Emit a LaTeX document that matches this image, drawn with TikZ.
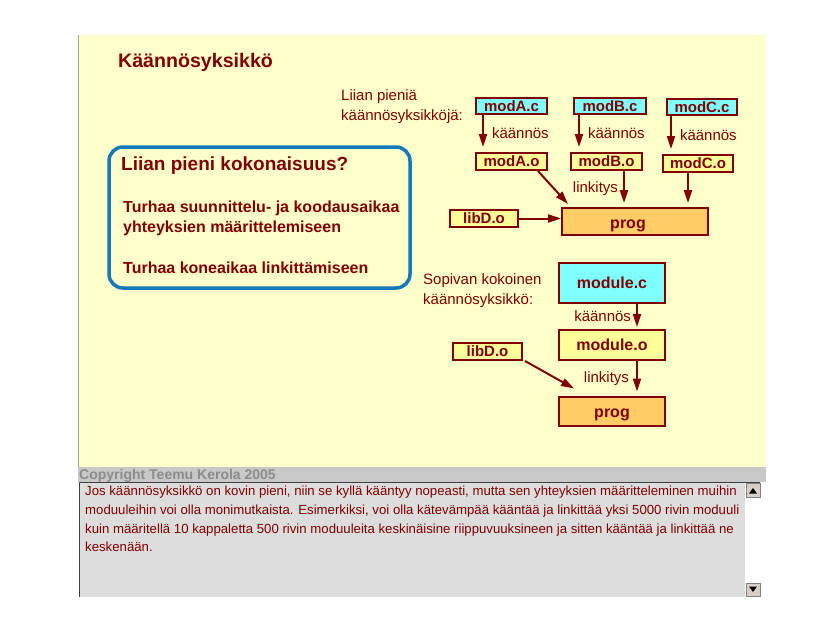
\documentclass[tikz,border=0pt]{standalone}
\usepackage{fontspec}
\setmainfont{Liberation Sans}
\usetikzlibrary{arrows.meta, positioning, calc}
\definecolor{slideyellow}{RGB}{255,255,204}
\definecolor{darkred}{RGB}{128,0,0}
\definecolor{srccyan}{RGB}{128,255,255}
\definecolor{objyellow}{RGB}{255,255,153}
\definecolor{progorange}{RGB}{255,204,102}
\definecolor{frameblue}{RGB}{20,120,185}
\definecolor{notegray}{RGB}{221,221,221}
\definecolor{stripgray}{RGB}{200,200,200}
\definecolor{btngray}{RGB}{212,208,200}

\tikzset{
    filebox/.style={draw=darkred, line width=2pt, inner sep=0pt, text=darkred,
                    font=\bfseries\fontsize{15}{18}\selectfont},
    srcbox/.style={filebox, fill=srccyan},
    objbox/.style={filebox, fill=objyellow},
    exebox/.style={filebox, fill=progorange, font=\bfseries\fontsize{16}{19}\selectfont,
                   text height=13pt, text depth=0pt},
    lbl/.style={inner sep=0pt, text=darkred, font=\fontsize{15}{18}\selectfont},
    txt/.style={anchor=west, inner sep=0pt, text=darkred},
    notetext/.style={anchor=base west, inner sep=0pt, text=darkred, font=\fontsize{13.2}{15}\selectfont},
    flow/.style={-{Triangle[length=13pt, width=8pt]}, draw=darkred, line width=2pt}
}

\begin{document}
\begin{tikzpicture}[x=1pt, y=-1pt]
    \useasboundingbox (0,0) rectangle (839,629);
    \fill[white] (0,0) rectangle (839,629);
    % slide
    \fill[slideyellow] (79,35) rectangle (766,467);
    \draw[black!35, line width=0.8pt] (78.5,35) -- (78.5,482);
    \node[txt, font=\bfseries\fontsize{19.6}{22}\selectfont] (title) at (118,62) {Käännösyksikkö};

    % too small units
    \node[txt, align=left, font=\fontsize{15}{20}\selectfont] (smallnote) at (341,107) {Liian pieniä\\käännösyksikköjä:};
    \node[srcbox, minimum width=71pt, minimum height=16pt] (modAc) at (511.5,106) {modA.c};
    \node[srcbox, minimum width=72pt, minimum height=16pt] (modBc) at (610,106) {modB.c};
    \node[srcbox, minimum width=70pt, minimum height=16pt] (modCc) at (702,107) {modC.c};
    \node[objbox, minimum width=71pt, minimum height=17pt] (modAo) at (511.5,161.5) {modA.o};
    \node[objbox, minimum width=71pt, minimum height=17pt] (modBo) at (606.5,161.5) {modB.o};
    \node[objbox, minimum width=70pt, minimum height=17pt] (modCo) at (698,163.5) {modC.o};
    \node[exebox, minimum width=146pt, minimum height=27pt] (progA) at (635,221.5) {\hspace*{-14pt}prog};
    \node[objbox, minimum width=68pt, minimum height=17pt] (libDa) at (484,218.5) {libD.o};

    \draw[flow, shorten >=5pt] ([xshift=8pt]modAc.south west) coordinate (tA) -- (tA |- modAo.north)
        node[lbl, midway, right=8pt] (kA) {käännös};
    \draw[flow, shorten >=5pt] ([xshift=6pt]modBc.south west) coordinate (tB) -- (tB |- modBo.north)
        node[lbl, midway, right=8pt] (kB) {käännös};
    \draw[flow, shorten >=5pt] ([xshift=5pt]modCc.south west) coordinate (tC) -- (tC |- modCo.north)
        node[lbl, midway, right=8pt] (kC) {käännös};
    \draw[flow] ([xshift=-10pt]modAo.south east) -- ([xshift=7pt,yshift=3pt]progA.north west);
    \draw[flow, shorten >=4pt] ([xshift=54pt]modBo.south west) coordinate (lB) -- (lB |- progA.north)
        node[lbl, midway, left=5pt] (lkA) {linkitys};
    \draw[flow, shorten >=4pt] ([xshift=26pt]modCo.south west) coordinate (lC) -- (lC |- progA.north);
    \draw[flow] (libDa.east) -- (libDa.east -| progA.west);

    % question box
    \node[draw=frameblue, line width=3.5pt, rounded corners=14pt, minimum width=301pt,
          minimum height=141pt, inner sep=0pt] (issuebox) at (259.5,217.5) {};
    \node[txt, font=\bfseries\fontsize{19}{22}\selectfont] (issuehead) at (121,166) {Liian pieni kokonaisuus?};
    \node[txt, font=\bfseries\fontsize{16}{19}\selectfont] (issueA) at (123,208) {Turhaa suunnittelu- ja koodausaikaa};
    \node[txt, font=\bfseries\fontsize{16}{19}\selectfont] (issueB) at (123,228) {yhteyksien määrittelemiseen};
    \node[txt, font=\bfseries\fontsize{16}{19}\selectfont] (issueC) at (123,268) {Turhaa koneaikaa linkittämiseen};

    % right-sized unit
    \node[txt, align=left, font=\fontsize{15}{20}\selectfont] (goodnote) at (423,291) {Sopivan kokoinen\\käännösyksikkö:};
    \node[srcbox, minimum width=106pt, minimum height=40pt, font=\bfseries\fontsize{16}{19}\selectfont] (modulec) at (612,283) {module.c};
    \node[objbox, minimum width=106pt, minimum height=30pt, font=\bfseries\fontsize{16}{19}\selectfont] (moduleo) at (612,345) {module.o};
    \node[exebox, minimum width=106pt, minimum height=29pt] (progB) at (612,411) {prog};
    \node[objbox, minimum width=69pt, minimum height=17pt] (libDb) at (487.5,351.5) {libD.o};

    \draw[flow, shorten >=2pt] ([xshift=79pt]modulec.south west) coordinate (tM) -- (tM |- moduleo.north)
        node[lbl, midway, left=5pt] (kM) {käännös};
    \draw[flow, shorten >=4pt] ([xshift=79pt]moduleo.south west) coordinate (lM) -- (lM |- progB.north)
        node[lbl, midway, left=7pt] (lkB) {linkitys};
    \draw[flow] ([xshift=2pt]libDb.south east) -- ([xshift=16pt,yshift=7pt]progB.north west);

    % copyright strip and notes pane
    \fill[stripgray] (78,467) rectangle (766,482);
    \node[anchor=base west, inner sep=0pt, text=black!45, font=\bfseries\fontsize{14}{16}\selectfont] (copy) at (79,479.5) {Copyright Teemu Kerola 2005};
    \fill[notegray] (79,482) rectangle (745,597);
    \fill[white] (745,483) rectangle (760,597);
    \draw[black!75, line width=1pt] (79,597) -- (79,482) -- (760,482);
    \draw[black!50, fill=btngray] (746,483.5) rectangle (760,497) (746,583) rectangle (760,596.5);
    \fill (749,493.5) -- (757,493.5) -- (753,488) -- cycle;
    \fill (749,586.5) -- (757,586.5) -- (753,592) -- cycle;
    \node[notetext] (noteA) at (85,495.5) {Jos käännösyksikkö on kovin pieni, niin se kyllä kääntyy nopeasti, mutta sen yhteyksien määritteleminen muihin};
    \node[notetext] (noteB) at (85,514.5) {moduuleihin voi olla monimutkaista. Esimerkiksi, voi olla kätevämpää kääntää ja linkittää yksi 5000 rivin moduuli};
    \node[notetext] (noteC) at (85,533.5) {kuin määritellä 10 kappaletta 500 rivin moduuleita keskinäisine riippuvuuksineen ja sitten kääntää ja linkittää ne};
    \node[notetext] (noteD) at (85,551.5) {keskenään.};
\end{tikzpicture}
\end{document}
